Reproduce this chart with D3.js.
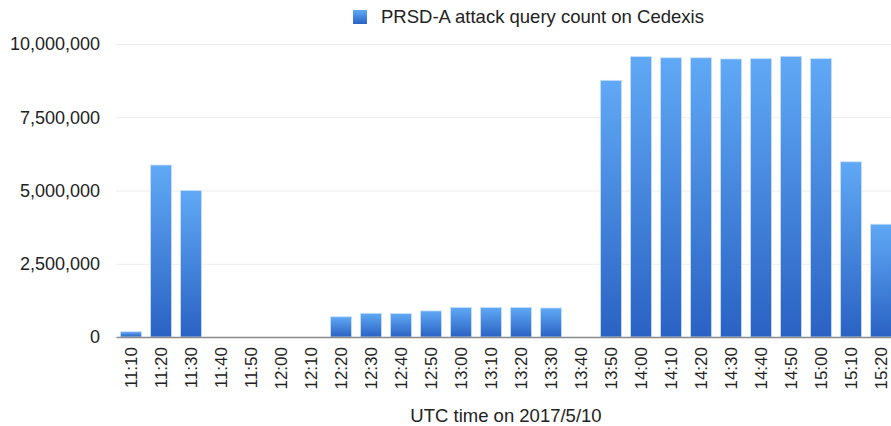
<!DOCTYPE html>
<html>
<head>
<meta charset="utf-8">
<script src="https://cdn.jsdelivr.net/npm/d3@7"></script>
<style>
    body { margin: 0; background: #fff; }
    svg { display: block; font-family: "Liberation Sans", Arial, sans-serif; }
    .grid line { stroke: #ececec; }
    .grid .domain { display: none; }
</style>
</head>
<body>
<svg width="891" height="426"></svg>
<script>
// Time slots (UTC, 2017/5/10)
const times = ["11:10", "11:20", "11:30", "11:40", "11:50", "12:00", "12:10", "12:20",
    "12:30", "12:40", "12:50", "13:00", "13:10", "13:20", "13:30", "13:40",
    "13:50", "14:00", "14:10", "14:20", "14:30", "14:40", "14:50", "15:00",
    "15:10", "15:20"];

// PRSD-A attack query count per slot
const counts = [180000, 5870000, 5000000, 0, 0, 0, 0, 690000,
    810000, 800000, 890000, 1010000, 1010000, 1010000, 990000, 0,
    8760000, 9570000, 9530000, 9530000, 9490000, 9500000, 9580000, 9500000,
    5980000, 3850000];

const yTicks = [0, 2500000, 5000000, 7500000, 10000000];
const seriesName = "PRSD-A attack query count on Cedexis";
const xTitle = "UTC time on 2017/5/10";

const margin = { top: 44, right: -5, bottom: 89, left: 116 };

const svg = d3.select("svg");
const W = +svg.attr("width"), H = +svg.attr("height");
const w = W - margin.left - margin.right;
const h = H - margin.top - margin.bottom;

// gradient for the bars
const defs = svg.append("defs");
const grad = defs.append("linearGradient")
    .attr("id", "barGrad")
    .attr("x1", 0).attr("y1", 0).attr("x2", 0).attr("y2", 1);
grad.append("stop").attr("offset", "0%").attr("stop-color", "#60a9f6");
grad.append("stop").attr("offset", "100%").attr("stop-color", "#2a62c3");

const g = svg.append("g")
    .attr("transform", "translate(" + margin.left + "," + margin.top + ")");

const x = d3.scaleBand()
    .domain(times)
    .range([0, w])
    .paddingInner(0.3)
    .paddingOuter(0.15);

const y = d3.scaleLinear()
    .domain([0, 10000000])
    .range([h, 0]);

// grid lines
g.append("g")
    .attr("class", "grid")
    .call(d3.axisLeft(y).tickValues(yTicks).tickSize(-w).tickFormat(""))
    .selectAll(".tick line").attr("stroke", "#ececec");

// y axis labels
const yAxis = g.append("g")
    .call(d3.axisLeft(y).tickValues(yTicks).tickSize(0).tickPadding(16).tickFormat(d3.format(",")));
yAxis.select(".domain").remove();
yAxis.selectAll("text")
    .attr("fill", "#222")
    .style("font-size", "18px")
    .style("font-family", "Liberation Sans, Arial, sans-serif");

// bars
g.selectAll(".bar")
    .data(counts)
    .enter()
    .append("rect")
        .attr("class", "bar")
        .attr("x", (d, i) => x(times[i]))
        .attr("y", d => y(d))
        .attr("width", x.bandwidth())
        .attr("height", d => Math.max(h - y(d), 0))
        .attr("fill", "url(#barGrad)")
        .attr("stroke", "#c9e0fb")
        .attr("stroke-width", d => d > 0 ? 0.8 : 0);

// x axis
const xAxis = g.append("g")
    .attr("transform", "translate(0," + h + ")")
    .call(d3.axisBottom(x).tickSize(0).tickPadding(10));
xAxis.select(".domain")
    .attr("stroke", "#8a8a8a")
    .attr("stroke-width", 1.5);
xAxis.selectAll("text")
    .attr("fill", "#222")
    .style("font-size", "17px")
    .style("font-family", "Liberation Sans, Arial, sans-serif")
    .attr("transform", "rotate(-90)")
    .attr("text-anchor", "end")
    .attr("x", -10)
    .attr("y", 0)
    .attr("dy", "0.35em");

// x axis title
svg.append("text")
    .attr("x", 506)
    .attr("y", 422)
    .attr("text-anchor", "middle")
    .attr("fill", "#222")
    .style("font-size", "18.5px")
    .text(xTitle);

// legend
const legend = svg.append("g").attr("transform", "translate(353,10)");
legend.append("rect")
    .attr("width", 14).attr("height", 14)
    .attr("fill", "url(#barGrad)");
legend.append("text")
    .attr("x", 28).attr("y", 13)
    .attr("fill", "#222")
    .style("font-size", "18.5px")
    .text(seriesName);
</script>
</body>
</html>
